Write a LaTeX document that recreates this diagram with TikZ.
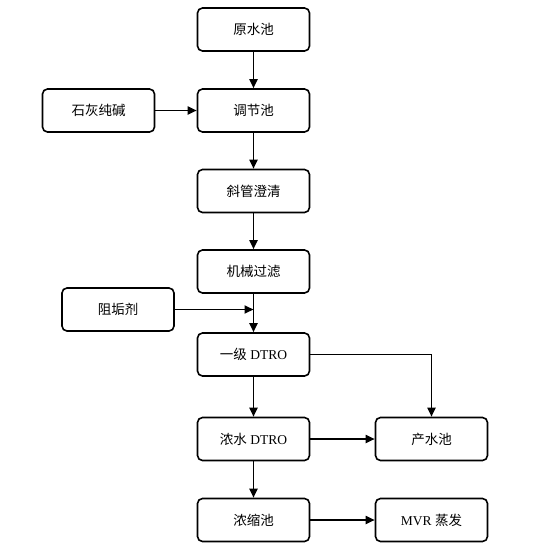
\documentclass[tikz,border=0pt]{standalone}
\usepackage{fontspec}
\setmainfont{Liberation Serif}
\newfontfamily\cjk{Noto Sans CJK SC}
\usepackage{tikz}
\usetikzlibrary{arrows.meta}

\tikzset{
  box/.style={draw, line width=1.6pt, rounded corners=5pt, minimum width=112pt, minimum height=43pt, inner sep=0pt, font=\fontsize{13.5}{15}\selectfont},
  flow/.style={->, line width=1.8pt},
  >={Triangle[length=9pt,width=8pt]}
}

\begin{document}
\begin{tikzpicture}[x=1pt,y=-1pt]

  \useasboundingbox (0,0) rectangle (542,550);

  \node[box] (yuanshui) at (253.5,29.5) {\cjk 原水池};
  \node[box] (tiaojie) at (253.5,110.5) {\cjk 调节池};
  \node[box] (shihui) at (98.5,110.5) {\cjk 石灰纯碱};
  \node[box] (xieguan) at (253.5,191) {\cjk 斜管澄清};
  \node[box] (jixie) at (253.5,271.5) {\cjk 机械过滤};
  \node[box] (zugou) at (118,309.5) {\cjk 阻垢剂};
  \node[box] (yiji) at (253.5,354.5) {{\cjk 一级} DTRO};
  \node[box] (nongshui) at (253.5,439) {{\cjk 浓水} DTRO};
  \node[box] (chanshui) at (431.5,439) {\cjk 产水池};
  \node[box] (nongsuo) at (253.5,520) {\cjk 浓缩池};
  \node[box] (mvr) at (431.5,520) {MVR {\cjk 蒸发}};

  \coordinate (join) at (zugou.east -| jixie.south);

  \draw[flow] (yuanshui) -- (tiaojie);
  \draw[flow] (shihui) -- (tiaojie);
  \draw[flow] (tiaojie) -- (xieguan);
  \draw[flow] (xieguan) -- (jixie);
  \draw[flow] (jixie) -- (yiji);
  \draw[flow] (zugou.east) -- (join);
  \draw[flow] (yiji.east) -| (chanshui.north);
  \draw[flow] (yiji) -- (nongshui);
  \draw[flow] (nongshui) -- (chanshui);
  \draw[flow] (nongshui) -- (nongsuo);
  \draw[flow] (nongsuo) -- (mvr);

\end{tikzpicture}
\end{document}
